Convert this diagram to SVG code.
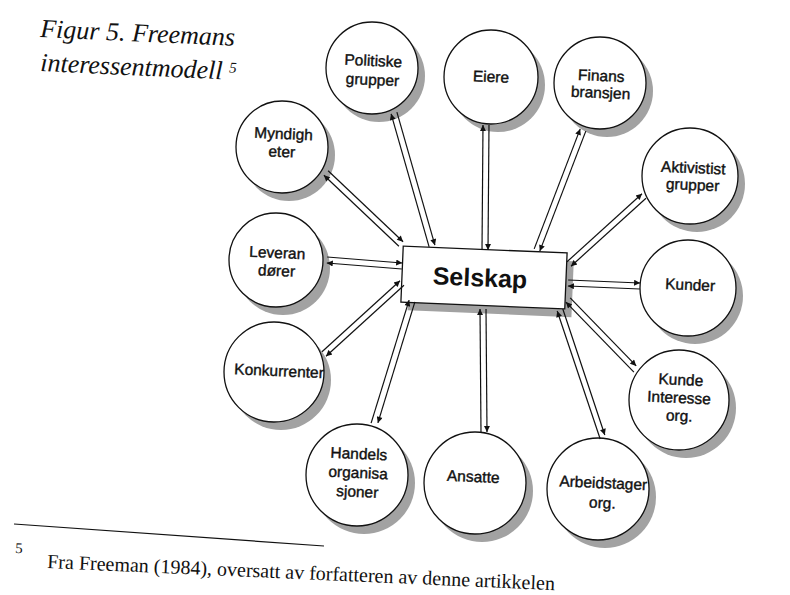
<svg xmlns="http://www.w3.org/2000/svg" width="790" height="595" viewBox="0 0 790 595">
<defs>
<style>
.sh{fill:#a2a2a2}
.c{fill:#fff;stroke:#111;stroke-width:1.3}
.t{font-family:"Liberation Sans",Arial,sans-serif;font-size:15.5px;fill:#111;text-anchor:middle;stroke:#111;stroke-width:0.4}
.serif{font-family:"Liberation Serif","Times New Roman",serif;fill:#111}
#connectors line{stroke:#111;stroke-width:1.2;marker-end:url(#ah)}
</style>
<marker id="ah" viewBox="0 0 10 10" refX="10" refY="5" markerWidth="8" markerHeight="6" orient="auto" markerUnits="userSpaceOnUse">
<path d="M0,0 L10,5 L0,10 z" fill="#111"/>
</marker>
</defs>
<rect width="790" height="595" fill="#fff"/>

<g id="title" class="serif" font-style="italic" font-size="26">
<text x="40" y="37" transform="rotate(2.6 40 37)">Figur 5. Freemans</text>
<text x="40" y="71" transform="rotate(2.6 40 71)">interessentmodell <tspan font-size="15" dy="-7">5</tspan></text>
</g>

<g id="n-politiske">
<circle class="sh" cx="379" cy="76" r="46"/><circle class="c" cx="372" cy="68" r="46"/>
<g transform="rotate(2.5 372 68)"><text class="t" x="373" y="66">Politiske</text><text class="t" x="373" y="85">grupper</text></g>
</g>
<g id="n-eiere">
<circle class="sh" cx="498" cy="85" r="47"/><circle class="c" cx="491" cy="77" r="47"/>
<g transform="rotate(2.5 491 77)"><text class="t" x="491" y="82">Eiere</text></g>
</g>
<g id="n-finans">
<circle class="sh" cx="607" cy="91" r="46"/><circle class="c" cx="600" cy="83" r="46"/>
<g transform="rotate(2.5 600 83)"><text class="t" x="601" y="81">Finans</text><text class="t" x="601" y="98">bransjen</text></g>
</g>
<g id="n-myndigheter">
<circle class="sh" cx="289" cy="155" r="46"/><circle class="c" cx="282" cy="147" r="46"/>
<g transform="rotate(2.5 282 147)"><text class="t" x="283" y="139">Myndigh</text><text class="t" x="282" y="157">eter</text></g>
</g>
<g id="n-leverandorer">
<circle class="sh" cx="283" cy="268" r="47"/><circle class="c" cx="276" cy="260" r="47"/>
<g transform="rotate(2.5 276 260)"><text class="t" x="277" y="258">Leveran</text><text class="t" x="277" y="276">dører</text></g>
</g>
<g id="n-konkurrenter">
<circle class="sh" cx="281" cy="380" r="50"/><circle class="c" cx="274" cy="372" r="50"/>
<g transform="rotate(2.5 274 372)"><text class="t" x="279" y="376">Konkurrenter</text></g>
</g>
<g id="n-handels">
<circle class="sh" cx="364" cy="483" r="51"/><circle class="c" cx="357" cy="475" r="51"/>
<g transform="rotate(2.5 357 475)"><text class="t" x="358" y="459">Handels</text><text class="t" x="358" y="478">organisa</text><text class="t" x="358" y="497">sjoner</text></g>
</g>
<g id="n-ansatte">
<circle class="sh" cx="482" cy="491" r="51"/><circle class="c" cx="475" cy="483" r="51"/>
<g transform="rotate(2.5 475 483)"><text class="t" x="473" y="482">Ansatte</text></g>
</g>
<g id="n-arbeidstager">
<circle class="sh" cx="605" cy="497" r="51"/><circle class="c" cx="598" cy="489" r="51"/>
<g transform="rotate(2.5 598 489)"><text class="t" x="603" y="488">Arbeidstager</text><text class="t" x="603" y="508">org.</text></g>
</g>
<g id="n-kundeinteresse">
<circle class="sh" cx="686" cy="408" r="50"/><circle class="c" cx="679" cy="400" r="50"/>
<g transform="rotate(2.5 679 400)"><text class="t" x="680" y="385">Kunde</text><text class="t" x="679" y="403">Interesse</text><text class="t" x="680" y="421">org.</text></g>
</g>
<g id="n-kunder">
<circle class="sh" cx="695" cy="296" r="48"/><circle class="c" cx="688" cy="288" r="48"/>
<g transform="rotate(2.5 688 288)"><text class="t" x="690" y="290">Kunder</text></g>
</g>
<g id="n-aktivist">
<circle class="sh" cx="697" cy="184" r="48"/><circle class="c" cx="690" cy="176" r="48"/>
<g transform="rotate(2.5 690 176)"><text class="t" x="693" y="173">Aktivistist</text><text class="t" x="693" y="190">grupper</text></g>
</g>

<g id="n-selskap" transform="translate(484 277.5) rotate(2.4)">
<rect class="sh" x="-75" y="-20" width="164" height="56"/>
<rect x="-82" y="-28" width="164" height="56" fill="#fff" stroke="#111" stroke-width="1.3"/>
<text x="-4" y="9" font-family="'Liberation Sans',Arial,sans-serif" font-size="25" font-weight="bold" text-anchor="middle" fill="#111">Selskap</text>
</g>

<g id="connectors">
<line x1="328.1" y1="170.8" x2="403.1" y2="241.8"/>
<line x1="398.9" y1="246.2" x2="323.9" y2="175.2"/>
<line x1="396.9" y1="112.2" x2="434.9" y2="245.2"/>
<line x1="429.1" y1="246.8" x2="391.1" y2="113.8"/>
<line x1="489" y1="125" x2="488" y2="250"/>
<line x1="482" y1="250" x2="483" y2="125"/>
<line x1="585.8" y1="131.1" x2="539.8" y2="251.1"/>
<line x1="534.2" y1="248.9" x2="580.2" y2="128.9"/>
<line x1="646" y1="198.2" x2="571" y2="266.2"/>
<line x1="567" y1="261.8" x2="642" y2="193.8"/>
<line x1="639.9" y1="289" x2="567.9" y2="286"/>
<line x1="568.1" y1="280" x2="640.1" y2="283"/>
<line x1="633.9" y1="372.1" x2="565.9" y2="302.1"/>
<line x1="570.2" y1="297.9" x2="636.2" y2="365.9"/>
<line x1="600.2" y1="439" x2="557.2" y2="311"/>
<line x1="562.8" y1="309" x2="604.8" y2="435"/>
<line x1="481" y1="433" x2="480" y2="309"/>
<line x1="486" y1="309" x2="487" y2="432"/>
<line x1="371.1" y1="423.1" x2="409.1" y2="300.1"/>
<line x1="414.9" y1="301.9" x2="377.9" y2="422.9"/>
<line x1="322" y1="351.8" x2="400" y2="280.8"/>
<line x1="404" y1="285.2" x2="326" y2="356.2"/>
<line x1="327.2" y1="257" x2="402.2" y2="263"/>
<line x1="401.8" y1="269" x2="326.8" y2="263"/>
</g>

<g id="footnote" class="serif">
<line x1="14" y1="524" x2="324" y2="546" stroke="#111" stroke-width="1.2"/>
<text x="15" y="553" font-size="15" transform="rotate(2.5 15 553)">5</text>
<text x="47" y="568" font-size="20" transform="rotate(2.5 47 568)">Fra Freeman (1984), oversatt av forfatteren av denne artikkelen</text>
</g>
</svg>
